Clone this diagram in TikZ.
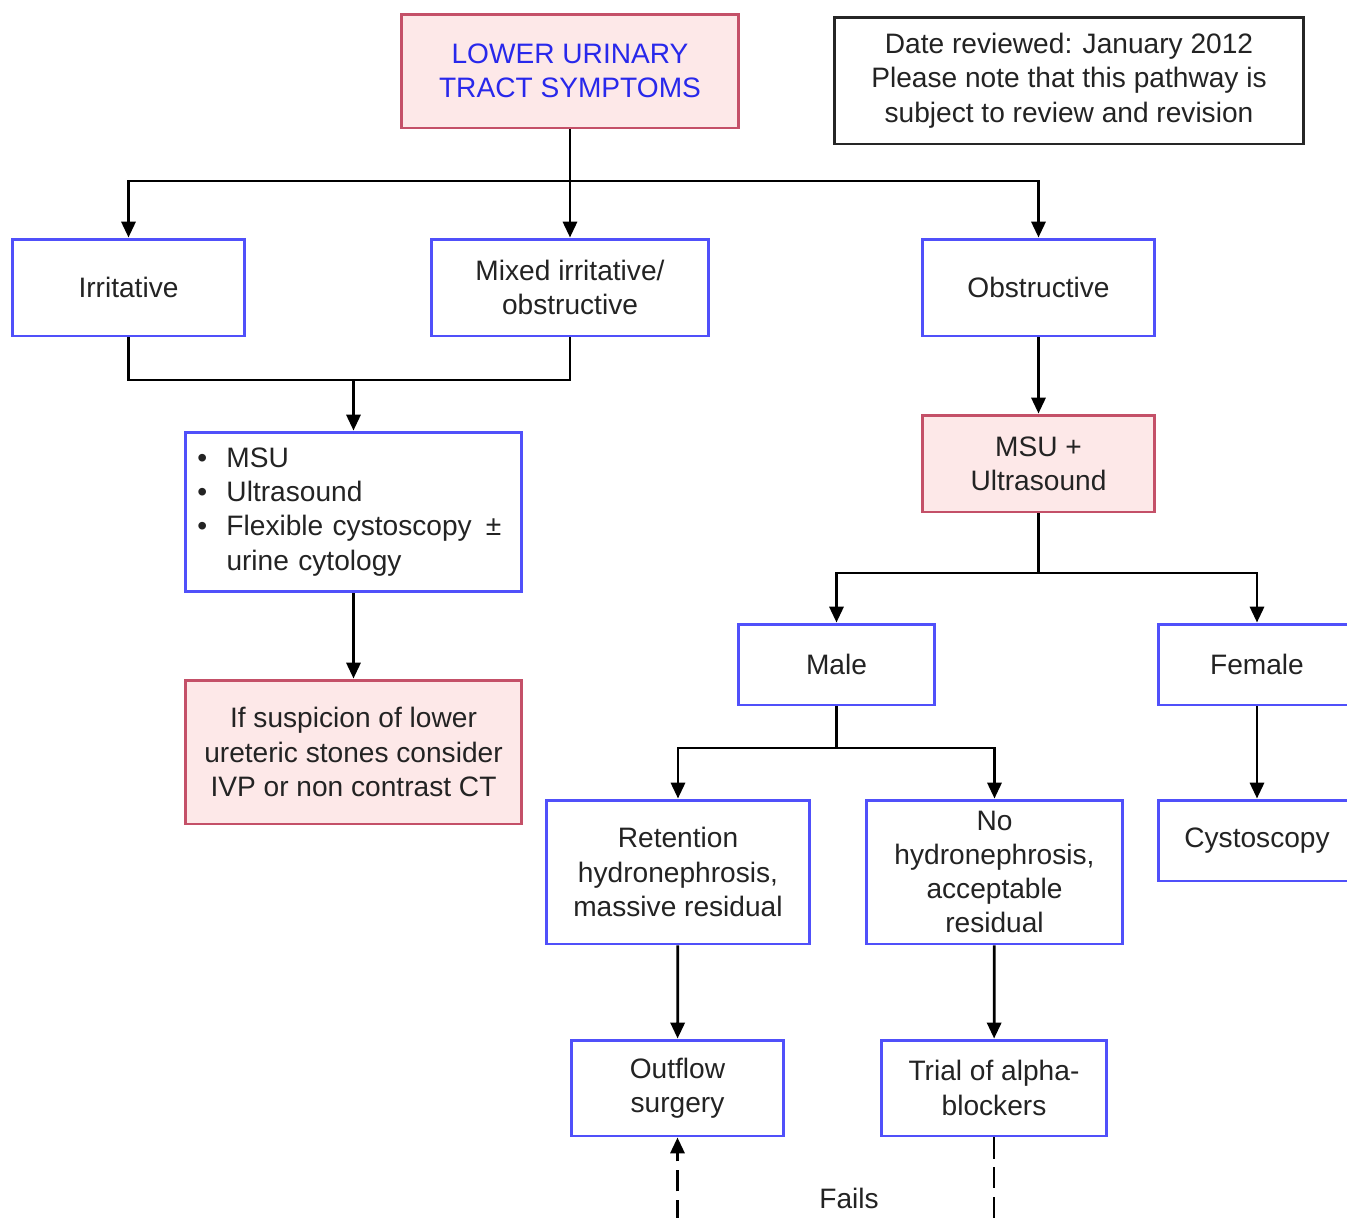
\documentclass[tikz,border=0pt]{standalone}
\usepackage{fontspec}
\setmainfont{Liberation Sans}
\usetikzlibrary{arrows.meta}
\definecolor{boxblue}{RGB}{80,80,250}
\definecolor{pinkfill}{RGB}{253,232,232}
\definecolor{pinkline}{RGB}{196,80,104}
\definecolor{titleblue}{RGB}{40,40,235}
\definecolor{txt}{RGB}{35,35,35}
\begin{document}
\begin{tikzpicture}[x=0.02cm,y=-0.02cm,line join=miter,>={Triangle[width=8pt,length=9pt]}]
    \tikzset{box/.style={draw=boxblue,line width=1.7pt,fill=white,align=center,text=txt,inner sep=2pt,
                font=\fontsize{16}{19.5}\selectfont},
             pinkbox/.style={box,draw=pinkline,fill=pinkfill},
             flow/.style={line width=1.6pt,black}}
    \useasboundingbox (0,0) rectangle (1347,1218);
    \clip (0,0) rectangle (1347,1218);
    % top row
    \node[pinkbox,text=titleblue,minimum width=6.76cm,minimum height=2.28cm] (lut) at (570,71) {LOWER URINARY\\TRACT SYMPTOMS};
    \node[box,draw=black!85,minimum width=9.4cm,minimum height=2.54cm] (date) at (1069,80.5) {Date reviewed: January 2012\\Please note that this pathway is\\subject to review and revision};
    \node[box,minimum width=4.66cm,minimum height=1.94cm] (irr) at (128.5,287.5) {Irritative};
    \node[box,minimum width=5.56cm,minimum height=1.94cm] (mixed) at (570,287.5) {Mixed irritative/\\obstructive};
    \node[box,minimum width=4.66cm,minimum height=1.94cm] (obs) at (1038.5,287.5) {Obstructive};
    % left branch
    \node[box,align=left,text width=6.74cm-14pt,inner xsep=7pt,minimum height=3.2cm] (tests) at (353.5,512)
        {\begin{tabular}{@{}l@{\hspace{11pt}}l@{}}
            \textbullet & MSU\\
            \textbullet & Ultrasound\\
            \textbullet & Flexible cystoscopy \,±\\
                        & urine cytology
         \end{tabular}};
    \node[pinkbox,minimum width=6.74cm,minimum height=2.88cm] (ivp) at (353.5,752) {If suspicion of lower\\ureteric stones consider\\IVP or non contrast CT};
    % right branch
    \node[pinkbox,minimum width=4.66cm,minimum height=1.94cm] (msuus) at (1038.5,463.5) {MSU +\\Ultrasound};
    \node[box,minimum width=3.94cm,minimum height=1.62cm] (male) at (836.5,664.5) {Male};
    \node[box,minimum width=3.96cm,minimum height=1.62cm] (female) at (1257,664.5) {Female};
    \node[box,minimum width=5.28cm,minimum height=2.88cm] (ret) at (678,872) {Retention\\hydronephrosis,\\massive residual};
    \node[box,minimum width=5.14cm,minimum height=2.88cm] (nohyd) at (994.5,872) {No\\hydronephrosis,\\acceptable\\residual};
    \node[box,minimum width=3.96cm,minimum height=1.62cm] (cys) at (1257,840.5) {Cystoscopy};
    \node[box,minimum width=4.26cm,minimum height=1.92cm] (outflow) at (677.5,1088) {Outflow\\surgery};
    \node[box,minimum width=4.52cm,minimum height=1.92cm] (trial) at (994,1088) {Trial of alpha-\\blockers};
    \node[text=txt,font=\fontsize{16}{19.5}\selectfont] (fails) at (849,1198) {Fails};
    % connectors
    \coordinate (s1) at (570,181);
    \coordinate (s2) at (353.5,380);
    \coordinate (s3) at (1038.5,573);
    \coordinate (s4) at (836.5,748);
    \coordinate (back) at (836,1260);
    \draw[flow] (lut) -- (s1);
    \draw[flow,->] (s1) -| (irr);
    \draw[flow,->] (s1) -- (mixed);
    \draw[flow,->] (s1) -| (obs);
    \draw[flow] (irr.south) |- (s2) -| (mixed.south);
    \draw[flow,->] (s2) -- (tests);
    \draw[flow,->] (tests) -- (ivp);
    \draw[flow,->] (obs) -- (msuus);
    \draw[flow] (msuus) -- (s3);
    \draw[flow,->] (s3) -| (male);
    \draw[flow,->] (s3) -| (female);
    \draw[flow] (male) -- (s4);
    \draw[flow,->] (s4) -| (ret);
    \draw[flow,->] (s4) -| (nohyd);
    \draw[flow,->] (female) -- (cys);
    \draw[flow,->] (ret) -- (outflow);
    \draw[flow,->] (nohyd) -- (trial);
    \draw[flow,->,dash pattern=on 12pt off 5pt] (trial) |- (back) -| (outflow);
\end{tikzpicture}
\end{document}
